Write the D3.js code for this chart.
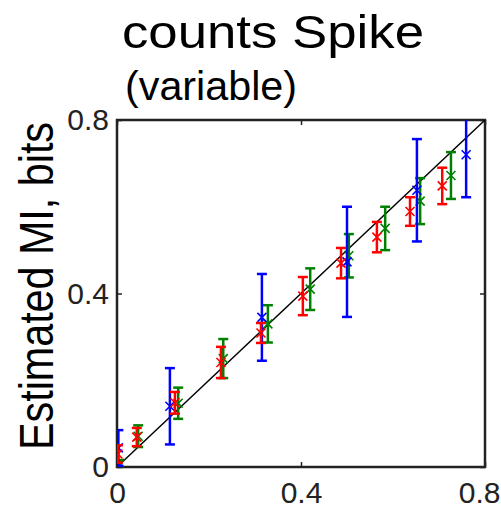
<!DOCTYPE html>
<html>
<head>
<meta charset="utf-8">
<script src="https://cdn.jsdelivr.net/npm/d3@7"></script>
<style>
  body { margin: 0; background: #fff; }
  svg { display: block; }
</style>
</head>
<body>
<div id="wrapper"></div>
<script>
// values
const blueX = [0.003, 0.115, 0.315, 0.5, 0.652, 0.759];
const blueY = [0.044, 0.14, 0.345, 0.473, 0.638, 0.72];
const blueErr = [0.041, 0.088, 0.1, 0.127, 0.118, 0.098];

const redX = [0.002, 0.043, 0.126, 0.226, 0.313, 0.404, 0.487, 0.565, 0.637, 0.707];
const redY = [0.03, 0.069, 0.148, 0.241, 0.309, 0.394, 0.47, 0.53, 0.589, 0.648];
const redErr = [0.02, 0.021, 0.025, 0.036, 0.023, 0.044, 0.035, 0.035, 0.033, 0.042];

const greenX = [0.005, 0.046, 0.133, 0.231, 0.328, 0.42, 0.504, 0.583, 0.659, 0.726];
const greenY = [0.008, 0.071, 0.147, 0.25, 0.33, 0.41, 0.487, 0.55, 0.613, 0.672];
const greenErr = [0.008, 0.025, 0.036, 0.045, 0.043, 0.048, 0.05, 0.05, 0.053, 0.054];

const tickVals = [0, 0.4, 0.8];
const tickLabels = ['0', '0.4', '0.8'];

const titleText = 'counts Spike';
const subtitleText = '(variable)';
const yLabel = 'Estimated MI, bits';

const width = 501, height = 509;
const plotL = 117, plotR = 485, plotT = 120, plotB = 467;

const svg = d3.select('#wrapper').append('svg').attr('width', width).attr('height', height);

const x = d3.scaleLinear().domain([0, 0.8]).range([plotL, plotR]);
const y = d3.scaleLinear().domain([0, 0.8]).range([plotB, plotT]);

// titles
svg.append('text')
  .attr('x', 122).attr('y', 48)
  .attr('font-family', 'Liberation Sans, Arial, sans-serif')
  .attr('font-size', 46)
  .attr('textLength', 302).attr('lengthAdjust', 'spacingAndGlyphs')
  .text(titleText);

svg.append('text')
  .attr('x', 125).attr('y', 100)
  .attr('font-family', 'Liberation Sans, Arial, sans-serif')
  .attr('font-size', 41)
  .attr('textLength', 172).attr('lengthAdjust', 'spacingAndGlyphs')
  .text(subtitleText);

// y label
svg.append('text')
  .attr('transform', 'translate(53,286) rotate(-90)')
  .attr('text-anchor', 'middle')
  .attr('font-family', 'Liberation Sans, Arial, sans-serif')
  .attr('font-size', 48)
  .attr('textLength', 328).attr('lengthAdjust', 'spacingAndGlyphs')
  .text(yLabel);

// axes
const fmt = (d, i) => tickLabels[i];
const tickFont = 'Liberation Sans Narrow, Arial Narrow, Liberation Sans, sans-serif';

const xAxis = svg.append('g').attr('transform', `translate(0,${plotB})`)
  .call(d3.axisBottom(x).tickValues(tickVals).tickFormat(fmt).tickSize(-5).tickPadding(15));
const yAxis = svg.append('g').attr('transform', `translate(${plotL},0)`)
  .call(d3.axisLeft(y).tickValues(tickVals).tickFormat(fmt).tickSize(-5).tickPadding(8));
const xTop = svg.append('g').attr('transform', `translate(0,${plotT})`)
  .call(d3.axisTop(x).tickValues(tickVals).tickFormat('').tickSize(-5));
const yRight = svg.append('g').attr('transform', `translate(${plotR},0)`)
  .call(d3.axisRight(y).tickValues(tickVals).tickFormat('').tickSize(-5));

[xAxis, yAxis, xTop, yRight].forEach(g => {
  g.select('.domain').remove();
  g.selectAll('line').attr('stroke', '#222').attr('stroke-width', 1.5);
  g.selectAll('text').attr('font-family', tickFont).attr('font-size', 30).attr('fill', '#222');
});
// last x label sits at the right edge of the window
xAxis.selectAll('.tick text').filter((d, i) => i === tickVals.length - 1)
  .attr('text-anchor', 'end').attr('x', width - 1 - plotR);

svg.append('rect')
  .attr('x', plotL).attr('y', plotT)
  .attr('width', plotR - plotL).attr('height', plotB - plotT)
  .attr('fill', 'none').attr('stroke', '#222').attr('stroke-width', 2.5);

svg.append('clipPath').attr('id', 'clip')
  .append('rect').attr('x', plotL).attr('y', plotT).attr('width', plotR - plotL).attr('height', plotB - plotT);

const plot = svg.append('g').attr('clip-path', 'url(#clip)');

// identity line
plot.append('line')
  .attr('x1', x(0)).attr('y1', y(0)).attr('x2', x(0.8)).attr('y2', y(0.8))
  .attr('stroke', '#000').attr('stroke-width', 1.4);

const series = [
  { color: '#008000', xs: greenX, ys: greenY, errs: greenErr },
  { color: '#0000ff', xs: blueX, ys: blueY, errs: blueErr },
  { color: '#ff0000', xs: redX, ys: redY, errs: redErr },
];

const cap = 5, m = 4.5;

series.forEach(s => {
  const data = s.xs.map((v, i) => ({ x: v, y: s.ys[i], e: s.errs[i] }));
  const g = plot.append('g').attr('stroke', s.color).attr('fill', 'none');
  const pts = g.selectAll('g').data(data).enter().append('g');
  pts.append('line')
    .attr('x1', d => x(d.x)).attr('x2', d => x(d.x))
    .attr('y1', d => y(d.y - d.e)).attr('y2', d => y(d.y + d.e))
    .attr('stroke-width', 2.5);
  pts.append('line')
    .attr('x1', d => x(d.x) - cap).attr('x2', d => x(d.x) + cap)
    .attr('y1', d => y(d.y + d.e)).attr('y2', d => y(d.y + d.e))
    .attr('stroke-width', 2.5);
  pts.append('line')
    .attr('x1', d => x(d.x) - cap).attr('x2', d => x(d.x) + cap)
    .attr('y1', d => y(d.y - d.e)).attr('y2', d => y(d.y - d.e))
    .attr('stroke-width', 2.5);
  pts.append('path')
    .attr('d', d => {
      const cx = x(d.x), cy = y(d.y);
      return `M${cx - m},${cy - m}L${cx + m},${cy + m}M${cx - m},${cy + m}L${cx + m},${cy - m}`;
    })
    .attr('stroke-width', 1.6);
});
</script>
</body>
</html>
